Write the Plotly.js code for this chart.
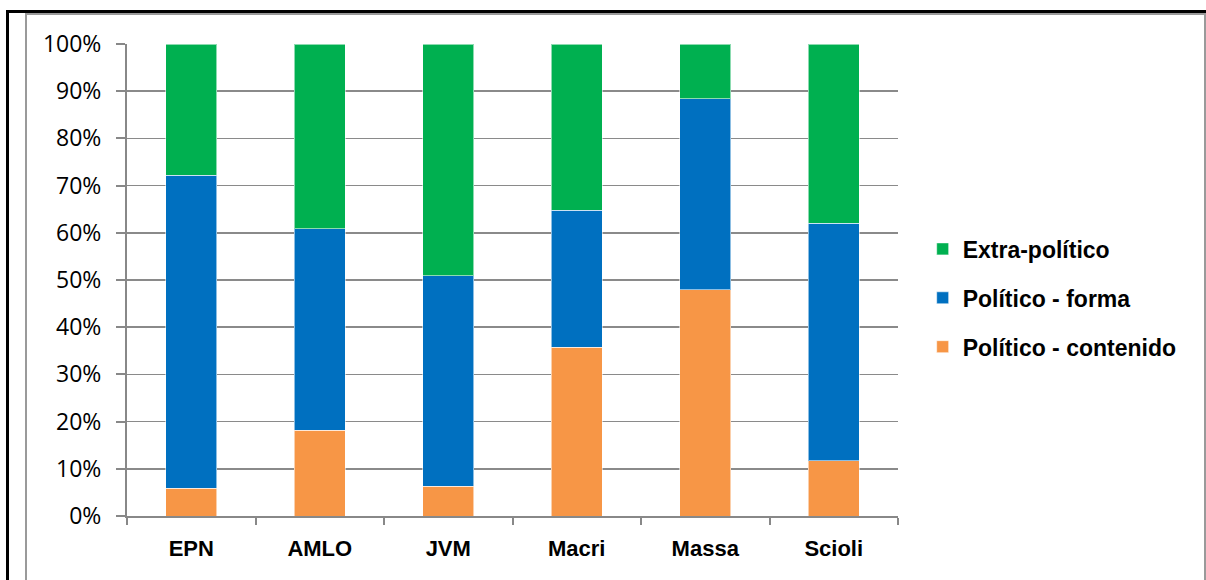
<!DOCTYPE html>
<html>
<head>
<meta charset="utf-8">
<script src="https://cdn.plot.ly/plotly-3.0.1.min.js"></script>
<style>
  html, body { margin: 0; padding: 0; background: #fff; }
  #wrap { position: relative; width: 1206px; height: 580px; overflow: hidden; }
  #chart { position: absolute; left: 0; top: 0; width: 1206px; height: 580px; }
  .frame { position: absolute; pointer-events: none; box-sizing: border-box; }
  #outer { left: 6px; top: 10px; width: 1220px; height: 600px; border-top: 3px solid #000; border-left: 3px solid #000; }
  #inner { left: 25px; top: 13px; width: 1181px; height: 600px; border-top: 2px solid #9a9a9a; border-left: 2px solid #9a9a9a; border-right: 2px solid #9a9a9a; }
</style>
</head>
<body>
<div id="wrap">
  <div id="chart"></div>
  <div id="outer" class="frame"></div>
  <div id="inner" class="frame"></div>
</div>
<script>
// Candidates and share of each type of content (percent of total)
const candidates = ["EPN", "AMLO", "JVM", "Macri", "Massa", "Scioli"];
const politicoContenido = [5.9, 18.2, 6.3, 35.8, 47.9, 11.7];
const politicoForma     = [66.3, 42.7, 44.6, 29.0, 40.5, 50.3];
const extraPolitico     = [27.8, 39.1, 49.1, 35.2, 11.6, 38.0];
const yTickValues = [0, 10, 20, 30, 40, 50, 60, 70, 80, 90, 100];
const yTickLabels = ["0%", "10%", "20%", "30%", "40%", "50%", "60%", "70%", "80%", "90%", "100%"];

const edge = { color: "rgba(255,255,255,0.55)", width: 1 };
const boldFont = "'Liberation Sans', Arial, sans-serif";

// Each series sits in its own legend group so the gap between entries can be set
const traces = [
  { type: "bar", name: "Político - contenido", x: candidates, y: politicoContenido,
    marker: { color: "#F79646", line: edge }, legendgroup: "g3", legendrank: 3 },
  { type: "bar", name: "Político - forma", x: candidates, y: politicoForma,
    marker: { color: "#0070C0", line: edge }, legendgroup: "g2", legendrank: 2 },
  { type: "bar", name: "Extra-político", x: candidates, y: extraPolitico,
    marker: { color: "#00B050", line: edge }, legendgroup: "g1", legendrank: 1 }
];

const layout = {
  width: 1206, height: 580,
  margin: { l: 127, r: 308, t: 44, b: 64, pad: 0 },
  paper_bgcolor: "#ffffff", plot_bgcolor: "#ffffff",
  barmode: "stack", bargap: 0.6,
  hovermode: false,
  xaxis: {
    type: "category",
    showline: true, linecolor: "#888888", linewidth: 2,
    ticks: "outside", tickson: "boundaries", ticklen: 7, tickcolor: "#888888", tickwidth: 2,
    showgrid: false,
    tickfont: { family: boldFont, size: 22, color: "#000", weight: "bold" },
    ticklabelstandoff: 12
  },
  yaxis: {
    range: [0, 100], tickmode: "array", tickvals: yTickValues, ticktext: yTickLabels,
    showline: true, linecolor: "#888888", linewidth: 2,
    ticks: "outside", ticklen: 9, tickcolor: "#888888", tickwidth: 2,
    showgrid: true, gridcolor: "#8a8a8a", gridwidth: 1.5,
    zeroline: false,
    tickfont: { family: "'Open Sans', sans-serif", size: 23, color: "#000" },
    ticklabelstandoff: 10
  },
  showlegend: true,
  legend: {
    x: 1.032, xanchor: "left", y: 0.462, yanchor: "middle",
    traceorder: "grouped", tracegroupgap: 16,
    font: { family: boldFont, size: 23, color: "#000", weight: "bold" },
    bgcolor: "rgba(0,0,0,0)"
  }
};

Plotly.newPlot("chart", traces, layout, { displayModeBar: false, staticPlot: true });
</script>
</body>
</html>
